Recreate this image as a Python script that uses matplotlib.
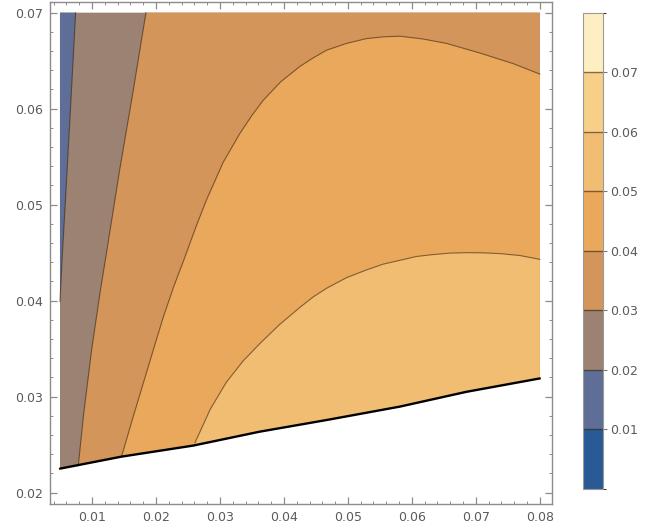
import numpy as np
import matplotlib
matplotlib.use("Agg")
import matplotlib.pyplot as plt
from matplotlib.colors import ListedColormap, BoundaryNorm
from matplotlib.cm import ScalarMappable
from matplotlib.ticker import MultipleLocator

# ---- data (data coordinates) ----
levels = [0.0, 0.01, 0.02, 0.03, 0.04, 0.05, 0.06, 0.07, 0.08]
band_colors = ["#2a5a95", "#5e6e96", "#9b8272", "#d4955a",
               "#e9a85b", "#f1bd73", "#f7cf89", "#fdefc2"]

x_min, x_max, y_top = 0.005, 0.08, 0.07

# lower edge of the computed region (noisy black boundary)
lb_x = [0.005, 0.0146, 0.0258, 0.0362, 0.0467, 0.0581, 0.0685, 0.08]
lb_y = [0.0225, 0.02375, 0.0249, 0.02635, 0.02757, 0.02896, 0.0305, 0.0319]

# contour 0.02
c02_x = [0.005, 0.0053, 0.0059, 0.0066, 0.00745]
c02_y = [0.0399, 0.0440, 0.0510, 0.0595, 0.0700]
# contour 0.03
c03_x = [0.00786, 0.0087, 0.00995, 0.0113, 0.0122, 0.0143, 0.0164, 0.01844]
c03_y = [0.0228, 0.0282, 0.0349, 0.0410, 0.0447, 0.0535, 0.0617, 0.0700]
# contour 0.04
c04_x = [0.01464, 0.01630, 0.01802, 0.01960, 0.02115, 0.0228, 0.0245, 0.0262,
         0.0279, 0.0305, 0.0331, 0.0350, 0.0368, 0.0395, 0.0425, 0.0446,
         0.0467, 0.0498, 0.0529, 0.0555, 0.0581, 0.0618, 0.0654, 0.0706,
         0.0758, 0.0800]
c04_y = [0.0238, 0.0276, 0.0314, 0.0349, 0.0383, 0.0415, 0.0445, 0.0476,
         0.0505, 0.0544, 0.0574, 0.0593, 0.0609, 0.0628, 0.0644, 0.0653,
         0.0661, 0.0668, 0.0673, 0.06748, 0.06755, 0.06725, 0.0668, 0.0658,
         0.0647, 0.0636]
# contour 0.05
c05_x = [0.0261, 0.0285, 0.0310, 0.0336, 0.0362, 0.0393, 0.0425, 0.0446,
         0.0467, 0.0498, 0.0529, 0.0555, 0.0581, 0.0607, 0.0633, 0.0659,
         0.0685, 0.0711, 0.0738, 0.0769, 0.0800]
c05_y = [0.0252, 0.0287, 0.0315, 0.0337, 0.0355, 0.0375, 0.0393, 0.0404,
         0.0413, 0.0424, 0.0432, 0.0438, 0.0442, 0.0446, 0.0448, 0.04495,
         0.0450, 0.04498, 0.0449, 0.0447, 0.0443]

x_ticks = [0.01, 0.02, 0.03, 0.04, 0.05, 0.06, 0.07, 0.08]
y_ticks = [0.02, 0.03, 0.04, 0.05, 0.06, 0.07]
cb_ticks = [0.01, 0.02, 0.03, 0.04, 0.05, 0.06, 0.07]

# ---- figure ----
fig = plt.figure(figsize=(6.46, 5.29), dpi=100)
ax = fig.add_axes([0.0774, 0.0473, 0.7771, 0.9489])

lbx = np.array(lb_x); lby = np.array(lb_y)

def lb_between(xa, xb):
    """lower-boundary points from xa to xb (increasing x)."""
    m = (lbx > xa) & (lbx < xb)
    xs = np.concatenate([[xa], lbx[m], [xb]])
    return xs, np.interp(xs, lbx, lby)

# layer 1: whole domain, band 0.02-0.03
px = np.concatenate([lbx, [x_max, x_min]])
py = np.concatenate([lby, [y_top, y_top]])
ax.fill(px, py, color=band_colors[2], lw=0)

# layer 2: right of contour 0.03 -> band 0.03-0.04
bx, by = lb_between(c03_x[0], x_max)
px = np.concatenate([c03_x, [x_max], bx[::-1]])
py = np.concatenate([c03_y, [y_top], by[::-1]])
ax.fill(px, py, color=band_colors[3], lw=0)

# layer 3: below contour 0.04 -> band 0.04-0.05
bx, by = lb_between(c04_x[0], x_max)
px = np.concatenate([c04_x, bx[::-1]])
py = np.concatenate([c04_y, by[::-1]])
ax.fill(px, py, color=band_colors[4], lw=0)

# layer 4: below contour 0.05 -> band 0.05-0.06
bx, by = lb_between(c05_x[0], x_max)
px = np.concatenate([c05_x, bx[::-1]])
py = np.concatenate([c05_y, by[::-1]])
ax.fill(px, py, color=band_colors[5], lw=0)

# layer 5: left of contour 0.02 -> band 0.01-0.02
px = np.concatenate([c02_x, [x_min]])
py = np.concatenate([c02_y, [y_top]])
ax.fill(px, py, color=band_colors[1], lw=0)

# contour lines
for cx, cy in [(c02_x, c02_y), (c03_x, c03_y), (c04_x, c04_y), (c05_x, c05_y)]:
    ax.plot(cx, cy, color="#3a2510", alpha=0.6, lw=0.8, solid_joinstyle="round")

# noisy lower boundary
ax.plot(lb_x, lb_y, color="black", lw=1.7, solid_capstyle="round")

ax.set_xlim(0.00344, 0.0819)
ax.set_ylim(0.01882, 0.07111)

spine_col = "#8c8c8c"
for s in ax.spines.values():
    s.set_color(spine_col)
    s.set_linewidth(1.0)
ax.set_xticks(x_ticks)
ax.set_yticks(y_ticks)
ax.set_xticklabels([f"{v:.2f}" for v in x_ticks])
ax.set_yticklabels([f"{v:.2f}" for v in y_ticks])
ax.xaxis.set_minor_locator(MultipleLocator(0.002))
ax.yaxis.set_minor_locator(MultipleLocator(0.002))
ax.tick_params(which="both", direction="in", top=True, right=True,
               color=spine_col, labelcolor="#5a5a5a", labelsize=9)
ax.tick_params(which="major", length=5, width=0.9, pad=5)
ax.tick_params(which="minor", length=2.5, width=0.7)

# colorbar
cax = fig.add_axes([0.9025, 0.0756, 0.031, 0.9004])
cmap = ListedColormap(band_colors)
norm = BoundaryNorm(levels, cmap.N)
sm = ScalarMappable(norm=norm, cmap=cmap)
cb = fig.colorbar(sm, cax=cax, ticks=cb_ticks, drawedges=True)
cb.dividers.set_color("#3a2510")
cb.dividers.set_alpha(0.6)
cb.dividers.set_linewidth(1.0)
cb.outline.set_edgecolor("#999999")
cb.outline.set_linewidth(0.8)
cb.ax.set_yticklabels([f"{v:.2f}" for v in cb_ticks])
cb.ax.tick_params(direction="out", length=3, width=0.8, color="#777777",
                  labelcolor="#5a5a5a", labelsize=9, pad=2)

fig.savefig("out.png", dpi=100)
